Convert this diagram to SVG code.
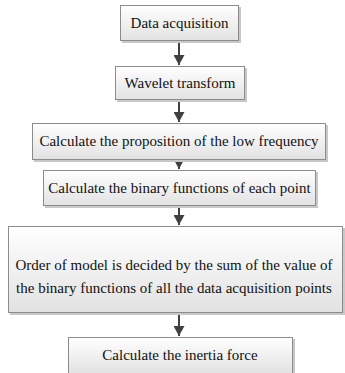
<svg xmlns="http://www.w3.org/2000/svg" width="345" height="373" viewBox="0 0 345 373">
<defs>
<linearGradient id="g" x1="0" y1="0" x2="0" y2="1">
<stop offset="0" stop-color="#ffffff"/>
<stop offset="1" stop-color="#e2e2e2"/>
</linearGradient>
<marker id="ah" markerWidth="11" markerHeight="11" refX="10" refY="5.5" orient="auto" markerUnits="userSpaceOnUse" viewBox="0 0 11 11">
<path d="M0,0 L10,5.5 L0,11 Z" fill="#404040"/>
</marker>
</defs>
<style>
.box{fill:url(#g);stroke:#8c8c8c;stroke-width:1}
.sh{fill:#c8c8c8}
text{font-size:15px;fill:#111111;text-anchor:middle}
.con{stroke:#404040;stroke-width:2;fill:none;marker-end:url(#ah)}
</style>
<g id="connectors">
<line class="con" x1="179" y1="41" x2="179" y2="65"/>
<line class="con" x1="179" y1="100" x2="179" y2="122"/>
<line class="con" x1="179" y1="160" x2="179" y2="169"/>
<line class="con" x1="179" y1="206" x2="179" y2="225"/>
<line class="con" x1="179" y1="313" x2="179" y2="336"/>
</g>
<g font-family="'Liberation Serif','Times New Roman',serif">
<g id="n1">
<rect class="sh" x="122" y="7" width="119" height="36"/>
<rect class="box" x="120.5" y="5.5" width="118" height="35"/>
<text x="179.5" y="28">Data acquisition</text>
</g>
<g id="n2">
<rect class="sh" x="117" y="68" width="130" height="34"/>
<rect class="box" x="115.5" y="66.5" width="129" height="33"/>
<text x="180" y="88">Wavelet transform</text>
</g>
<g id="n3">
<rect class="sh" x="34" y="125" width="294" height="37"/>
<rect class="box" x="32.5" y="123.5" width="293" height="36"/>
<text x="179" y="146">Calculate the proposition of the low frequency</text>
</g>
<g id="n4">
<rect class="sh" x="45" y="172" width="273" height="36"/>
<rect class="box" x="43.5" y="170.5" width="272" height="35"/>
<text x="179.5" y="193">Calculate the binary functions of each point</text>
</g>
<g id="n5">
<rect class="sh" x="10" y="228" width="335" height="87"/>
<rect class="box" x="8.5" y="226.5" width="334" height="86"/>
<text x="174" y="270">Order of model is decided by the sum of the value of</text>
<text x="174" y="293">the binary functions of all the data acquisition points</text>
</g>
<g id="n6">
<rect class="sh" x="70" y="339" width="225" height="36"/>
<rect class="box" x="68.5" y="337.5" width="224" height="36"/>
<text x="180" y="360">Calculate the inertia force</text>
</g>
</g>
</svg>
